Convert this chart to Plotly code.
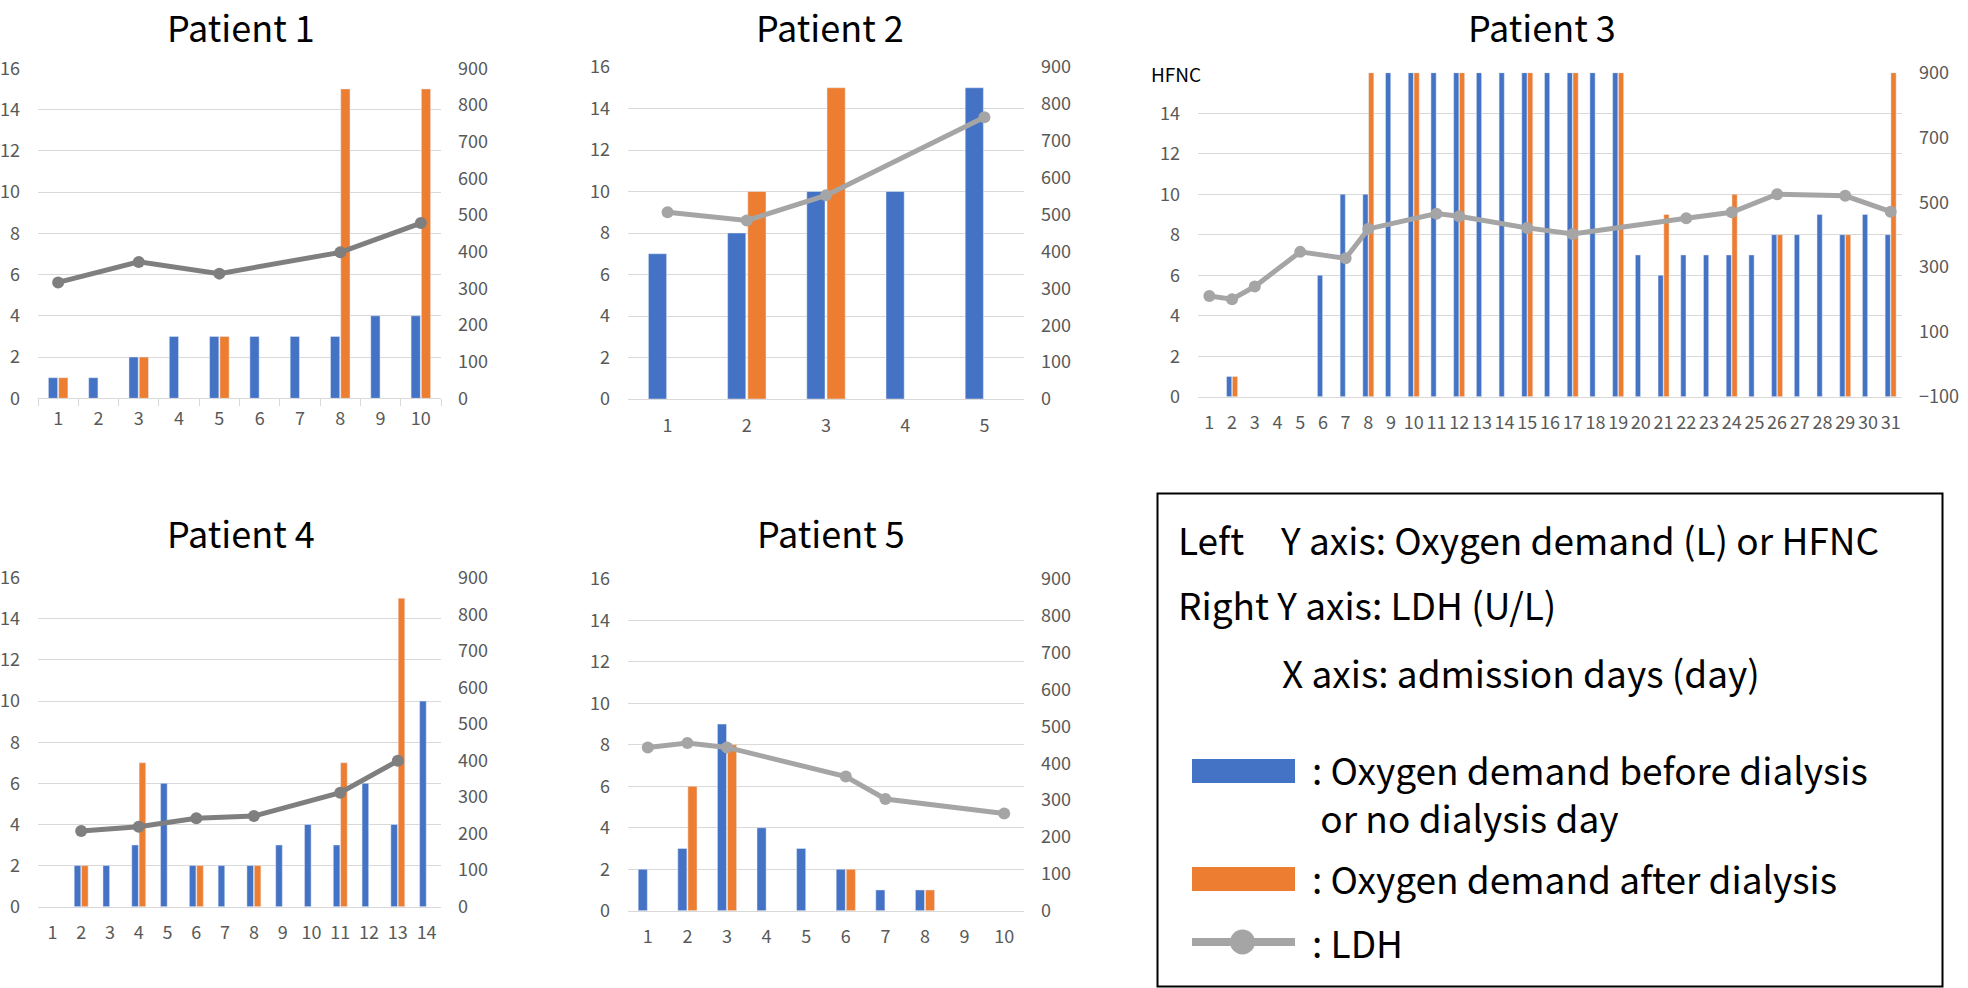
import plotly.graph_objects as go

W, H = 1968, 988

# ---------------- data ----------------
p1_days = list(range(1, 11))
p1_before = [1, 1, 2, 3, 3, 3, 3, 3, 4, 4]
p1_after = [1, None, 2, None, 3, None, None, 15, None, 15]
p1_ldh_days = [1, 3, 5, 8, 10]
p1_ldh = [316, 372, 340, 398, 478]

p2_days = list(range(1, 6))
p2_before = [7, 8, 10, 10, 15]
p2_after = [None, 10, 15, None, None]
p2_ldh_days = [1, 2, 3, 5]
p2_ldh = [506, 484, 552, 764]

p3_days = list(range(1, 32))
p3_before = [None, 1, None, None, None, 6, 10, 10,
             16, 16, 16, 16, 16, 16, 16, 16, 16, 16, 16,
             7, 6, 7, 7, 7, 7, 8, 8, 9, 8, 9, 8]
p3_after = [None, 1, None, None, None, None, None, 16,
            None, 16, None, 16, None, None, 16, None, 16, None, 16,
            None, 9, None, None, 10, None, 8, None, None, 8, None, 16]
p3_ldh_days = [1, 2, 3, 5, 7, 8, 11, 12, 15, 17, 22, 24, 26, 29, 31]
p3_ldh = [211, 201, 240, 347, 327, 418, 465, 457, 421, 402, 451, 469, 525, 520, 471]

p4_days = list(range(1, 15))
p4_before = [None, 2, 2, 3, 6, 2, 2, 2, 3, 4, 3, 6, 4, 10]
p4_after = [None, 2, None, 7, None, 2, None, 2, None, None, 7, None, 15, None]
p4_ldh_days = [2, 4, 6, 8, 11, 13]
p4_ldh = [207, 219, 242, 248, 312, 399]

p5_days = list(range(1, 11))
p5_before = [2, 3, 9, 4, 3, 2, 1, 1, None, None]
p5_after = [None, 6, 8, None, None, 2, None, 1, None, None]
p5_ldh_days = [1, 2, 3, 6, 7, 10]
p5_ldh = [443, 455, 443, 364, 303, 264]

titles = ["Patient 1", "Patient 2", "Patient 3", "Patient 4", "Patient 5"]
left_ticks = [0, 2, 4, 6, 8, 10, 12, 14, 16]
right_ticks_std = [0, 100, 200, 300, 400, 500, 600, 700, 800, 900]
right_ticks_p3 = [-100, 100, 300, 500, 700, 900]

# ---------------- styling ----------------
BLUE = "#4472C4"
ORANGE = "#ED7D31"
GRID = "#D9D9D9"
TICKC = "#595959"
FONT = "Noto Sans CJK JP"

# pixel boxes of each plot area: (x0, x1, ytop, ybottom)
boxes = [
    (38, 441, 68.3, 398.3),
    (628, 1024, 67.0, 399.0),
    (1198, 1902, 72.7, 396.7),
    (38, 441, 577.7, 906.7),
    (628, 1024, 579.0, 910.7),
]
title_pos = [(241, 26), (830, 26), (1542, 26), (241, 532), (831, 532)]
line_cols = ["#7F7F7F", "#A5A5A5", "#A5A5A5", "#7F7F7F", "#A5A5A5"]

panels = [
    (p1_days, p1_before, p1_after, p1_ldh_days, p1_ldh),
    (p2_days, p2_before, p2_after, p2_ldh_days, p2_ldh),
    (p3_days, p3_before, p3_after, p3_ldh_days, p3_ldh),
    (p4_days, p4_before, p4_after, p4_ldh_days, p4_ldh),
    (p5_days, p5_before, p5_after, p5_ldh_days, p5_ldh),
]

fig = go.Figure()
layout = {}
annotations = []
shapes = []

tfont = dict(family=FONT, size=18, color=TICKC)

for i, (days, before, after, ldh_days, ldh) in enumerate(panels):
    n = i + 1
    xa = "x" if n == 1 else f"x{n}"
    yl = "y" if n == 1 else f"y{2 * n - 1}"
    yr = f"y{2 * n}"
    cats = [str(d) for d in days]
    fig.add_trace(go.Bar(x=cats, y=before, marker_color=BLUE, xaxis=xa, yaxis=yl,
                         offsetgroup="a", showlegend=False))
    fig.add_trace(go.Bar(x=cats, y=after, marker_color=ORANGE, xaxis=xa, yaxis=yl,
                         offsetgroup="b", showlegend=False))
    fig.add_trace(go.Scatter(x=[str(d) for d in ldh_days], y=ldh, xaxis=xa, yaxis=yr,
                             mode="lines+markers",
                             line=dict(color=line_cols[i], width=5),
                             marker=dict(color=line_cols[i], size=12),
                             showlegend=False))
    x0, x1, yt, yb = boxes[i]
    xdom = [x0 / W, x1 / W]
    ydom = [1 - yb / H, 1 - yt / H]
    xkey = "xaxis" if n == 1 else f"xaxis{n}"
    ylkey = "yaxis" if n == 1 else f"yaxis{2 * n - 1}"
    yrkey = f"yaxis{2 * n}"
    layout[xkey] = dict(domain=xdom, anchor=yl, type="category",
                        categoryorder="array", categoryarray=cats,
                        range=[-0.5, len(cats) - 0.5],
                        showgrid=False, zeroline=False,
                        showline=True, linecolor=GRID, linewidth=1.3,
                        ticks="outside" if n == 1 else "",
                        tickson="boundaries", ticklen=7, tickcolor=GRID, tickwidth=1.3,
                        tickfont=tfont, ticklabelstandoff=10 if n != 1 else 4,
                        automargin=False, fixedrange=True)
    if n == 3:
        ltext = [str(v) for v in left_ticks[:-1]] + [""]
        rvals = right_ticks_p3
        rrange = [-100, 900]
    else:
        ltext = [str(v) for v in left_ticks]
        rvals = right_ticks_std
        rrange = [0, 900]
    layout[ylkey] = dict(domain=ydom, anchor=xa, range=[0, 16],
                         tickmode="array", tickvals=left_ticks, ticktext=ltext,
                         showgrid=True, gridcolor=GRID, gridwidth=1.3,
                         zeroline=False, showline=False,
                         tickfont=tfont, ticklabelstandoff=17,
                         automargin=False, fixedrange=True)
    layout[yrkey] = dict(overlaying=yl, side="right", anchor=xa, range=rrange,
                         tickmode="array", tickvals=rvals,
                         showgrid=False, zeroline=False, showline=False,
                         tickfont=tfont, ticklabelstandoff=16,
                         automargin=False, fixedrange=True)
    tx, ty = title_pos[i]
    annotations.append(dict(text=titles[i], x=tx / W, y=1 - ty / H, xref="paper", yref="paper",
                            xanchor="center", yanchor="middle", showarrow=False,
                            font=dict(family=FONT, size=36, color="black")))

# HFNC label in patient 3 (covers start of top gridline)
annotations.append(dict(text="HFNC", x=1150 / W, y=1 - 73 / H, xref="paper", yref="paper",
                        xanchor="left", yanchor="middle", showarrow=False, align="left",
                        width=71, height=22, bgcolor="white", borderpad=0,
                        font=dict(family=FONT, size=19, color="black")))

# ---------------- legend box ----------------
def px(x):
    return x / W

def py(y):
    return 1 - y / H

shapes.append(dict(type="rect", xref="paper", yref="paper",
                   x0=px(1157.5), x1=px(1942.5), y0=py(986.5), y1=py(493.5),
                   line=dict(color="black", width=2), fillcolor="rgba(0,0,0,0)"))
shapes.append(dict(type="rect", xref="paper", yref="paper",
                   x0=px(1192), x1=px(1295), y0=py(783), y1=py(759),
                   line=dict(width=0), fillcolor=BLUE))
shapes.append(dict(type="rect", xref="paper", yref="paper",
                   x0=px(1192), x1=px(1295), y0=py(891), y1=py(867),
                   line=dict(width=0), fillcolor=ORANGE))
shapes.append(dict(type="line", xref="paper", yref="paper",
                   x0=px(1192), x1=px(1295), y0=py(942), y1=py(942),
                   line=dict(color="#A5A5A5", width=8)))
shapes.append(dict(type="circle", xref="paper", yref="paper",
                   x0=px(1230), x1=px(1255), y0=py(954.5), y1=py(929.5),
                   line=dict(width=0), fillcolor="#A5A5A5"))

lfont = dict(family=FONT, size=37, color="black")
legend_texts = [
    ("Left\u3000Y axis: Oxygen demand (L) or HFNC", 1176, 539),
    ("Right Y axis: LDH (U/L)", 1176, 604),
    ("X axis: admission days (day)", 1280, 672),
    (": Oxygen demand before dialysis<br> or no dialysis day", 1310, 793),
    (": Oxygen demand after dialysis", 1310, 878),
    (": LDH", 1310, 942),
]
for t, x, y in legend_texts:
    annotations.append(dict(text=t, x=px(x), y=py(y), xref="paper", yref="paper",
                            xanchor="left", yanchor="middle", showarrow=False,
                            align="left", font=lfont))

fig.update_layout(
    width=W, height=H, autosize=False,
    margin=dict(l=0, r=0, t=0, b=0, pad=0, autoexpand=False),
    paper_bgcolor="white", plot_bgcolor="white",
    barmode="group", bargap=0.49, bargroupgap=0.1,
    annotations=annotations, shapes=shapes,
    font=dict(family=FONT),
    **layout,
)

fig.write_html("out.html", config={"displayModeBar": False, "responsive": False},
               post_script="document.body.style.margin='0px';")
